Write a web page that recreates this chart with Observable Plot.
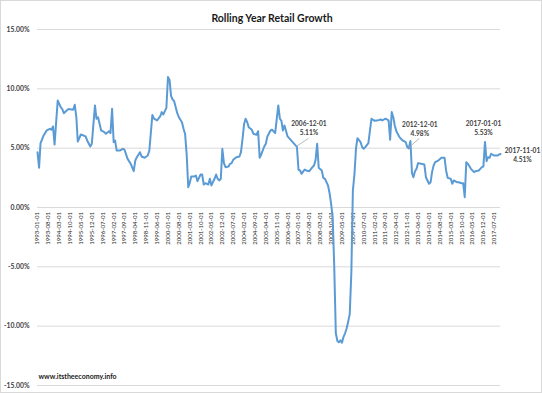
<!DOCTYPE html>
<html>
<head>
<meta charset="utf-8">
<script src="https://cdn.jsdelivr.net/npm/d3@7"></script>
<script src="https://cdn.jsdelivr.net/npm/@observablehq/plot@0.6"></script>
<style>
  html, body { margin: 0; padding: 0; background: #fff; }
  #chart svg { display: block; outline: 1px solid #d9d9d9; outline-offset: -1px; }
</style>
</head>
<body>
<div id="chart"></div>
<script>
const title = "Rolling Year Retail Growth";
const watermark = "www.itstheeconomy.info";

const months = [
  "1993-01","1993-02","1993-03","1993-05","1993-07","1993-09","1993-10","1993-11","1993-12",
  "1994-02","1994-04","1994-05","1994-06","1994-08","1994-09","1994-12",
  "1995-01","1995-02","1995-03","1995-05","1995-08","1995-09","1995-11","1995-12",
  "1996-02","1996-03","1996-04","1996-06","1996-08","1996-09","1996-11","1996-12",
  "1997-01","1997-02","1997-03","1997-04","1997-06","1997-08","1997-09","1997-11",
  "1998-01","1998-03","1998-04","1998-05","1998-07","1998-08","1998-10","1998-12",
  "1999-01","1999-03","1999-04","1999-06","1999-08","1999-09","1999-10","1999-11","1999-12",
  "2000-01","2000-02","2000-03","2000-04","2000-05","2000-07","2000-08","2000-10","2000-11","2000-12",
  "2001-01","2001-02","2001-03","2001-04","2001-06","2001-07","2001-08","2001-10","2001-11","2001-12",
  "2002-01","2002-03","2002-04","2002-05","2002-07","2002-08","2002-09","2002-10","2002-11","2002-12",
  "2003-01","2003-02","2003-04","2003-05","2003-06","2003-07","2003-09","2003-11","2003-12",
  "2004-01","2004-02","2004-03","2004-04","2004-05","2004-07","2004-08","2004-10","2004-11","2004-12",
  "2005-01","2005-03","2005-04","2005-05","2005-07","2005-08","2005-10","2005-12",
  "2006-01","2006-02","2006-03","2006-04","2006-06","2006-08","2006-10","2006-12",
  "2007-01","2007-02","2007-03","2007-05","2007-06","2007-08","2007-10","2007-11","2007-12",
  "2008-01","2008-02","2008-04","2008-05","2008-06","2008-08","2008-09","2008-10","2008-11","2008-12",
  "2009-01","2009-02","2009-03","2009-04","2009-05","2009-06","2009-07","2009-08","2009-09","2009-10","2009-11","2009-12",
  "2010-01","2010-02","2010-03","2010-05","2010-06","2010-07","2010-08","2010-10","2010-11","2010-12",
  "2011-02","2011-03","2011-04","2011-06","2011-07","2011-09","2011-11","2011-12",
  "2012-01","2012-02","2012-03","2012-04","2012-06","2012-08","2012-10","2012-11","2012-12",
  "2013-01","2013-02","2013-03","2013-04","2013-05","2013-06","2013-08","2013-10","2013-11",
  "2014-01","2014-02","2014-03","2014-04","2014-05","2014-07","2014-09","2014-11","2014-12",
  "2015-01","2015-03","2015-04","2015-05","2015-07","2015-08","2015-10","2015-11","2015-12",
  "2016-01","2016-02","2016-04","2016-06","2016-07","2016-09","2016-10","2016-11","2016-12",
  "2017-01","2017-02","2017-03","2017-04","2017-05","2017-07","2017-09","2017-10","2017-11"
];
const growth = [
  4.66,3.35,5.4,6.07,6.5,6.63,6.55,6.83,5.3,
  9.02,8.46,8.3,7.95,8.2,8.3,8.24,
  8.66,7.6,5.56,6.15,5.99,5.65,5.14,5.37,
  8.6,7.48,7.61,6.49,6.35,6.21,6.43,6.27,
  8.32,5.5,5.65,4.8,4.8,4.95,4.87,4.1,
  3.68,3.06,3.96,4.24,4.66,4.3,4.19,4.38,
  4.8,7.8,7.48,7.34,7.67,8.04,7.84,8.12,8.4,
  11.0,10.75,9.4,9.1,8.96,7.95,7.61,7.19,6.63,6.2,
  4.5,1.71,2.05,2.61,2.61,2.7,2.22,2.78,2.78,1.94,
  2.05,1.94,2.42,1.86,2.42,2.78,2.42,2.28,2.42,4.95,
  3.74,3.4,3.46,3.68,3.74,4.02,4.24,4.3,4.66,
  5.79,7.06,7.48,7.19,6.77,6.55,6.21,6.13,6.43,4.19,
  4.47,5.14,5.37,5.99,6.49,6.55,6.27,8.6,
  7.48,7.3,6.49,6.91,5.99,5.7,5.4,5.11,
  3.18,3.12,2.84,3.2,3.12,3.06,3.4,3.54,4.0,
  5.37,3.35,3.12,2.5,2.42,1.86,1.2,0.3,-0.9,-5.0,
  -10.6,-11.25,-11.36,-11.2,-11.4,-10.9,-10.6,-10.2,-9.6,-8.96,-5.5,1.43,
  2.8,5.0,5.84,5.5,5.1,4.95,5.09,5.42,6.49,7.48,
  7.3,7.34,7.34,7.42,7.34,7.48,7.34,5.71,
  8.04,7.61,6.91,6.43,5.93,5.65,5.5,5.09,4.98,
  5.6,2.9,2.55,3.06,3.26,3.74,3.68,3.63,2.55,
  2.0,2.13,2.98,3.54,3.82,3.96,4.19,4.19,3.12,
  2.5,2.42,2.0,2.28,2.13,2.13,2.05,2.05,0.87,
  3.82,3.68,3.26,2.98,3.06,3.12,3.26,3.4,3.45,
  5.53,3.9,4.24,4.19,4.53,4.38,4.38,4.45,4.51
];

const xTickLabels = [
  "1993-01-01","1993-08-01","1994-03-01","1994-10-01","1995-05-01","1995-12-01","1996-07-01",
  "1997-02-01","1997-09-01","1998-04-01","1998-11-01","1999-06-01","2000-01-01","2000-08-01",
  "2001-03-01","2001-10-01","2002-05-01","2002-12-01","2003-07-01","2004-02-01","2004-09-01",
  "2005-04-01","2005-11-01","2006-06-01","2007-01-01","2007-08-01","2008-03-01","2008-10-01",
  "2009-05-01","2009-12-01","2010-07-01","2011-02-01","2011-09-01","2012-04-01","2012-11-01",
  "2013-06-01","2014-01-01","2014-08-01","2015-03-01","2015-10-01","2016-05-01","2016-12-01",
  "2017-07-01"
];
const yTicks = [15, 10, 5, 0, -5, -10, -15];

const annDates = ["2006-12-01", "2012-12-01", "2017-01-01", "2017-11-01"];
const annValues = [5.11, 4.98, 5.53, 4.51];

const parseDate = d3.utcParse("%Y-%m-%d");
const data = months.map((m, i) => ({date: parseDate(m + "-01"), value: growth[i]}));
const ann = annDates.map((d, i) => ({date: parseDate(d), value: annValues[i], label: d + "\n" + annValues[i].toFixed(2) + "%"}));

const font = "Lato, 'Liberation Sans', sans-serif";

function annText(i, dx, dy) {
  return Plot.text([ann[i]], {
    x: "date", y: "value", text: "label", dx, dy,
    fontSize: 6.6, fontWeight: "bold", fill: "#404040", lineHeight: 1.35, lineAnchor: "middle"
  });
}
function leader(i, dx, dy) {
  return (index, scales) => {
    const x = scales.x(ann[i].date), y = scales.y(ann[i].value);
    return d3.create("svg:line")
      .attr("x1", x).attr("y1", y).attr("x2", x + dx).attr("y2", y + dy)
      .attr("stroke", "#a6a6a6").attr("stroke-width", 0.8).node();
  };
}

const chart = Plot.plot({
  width: 542,
  height: 393,
  marginLeft: 37,
  marginRight: 42,
  marginTop: 29,
  marginBottom: 8,
  style: {fontFamily: font, background: "#fff", overflow: "visible"},
  x: {type: "utc", domain: [parseDate("1993-01-01"), parseDate("2017-11-01")], axis: null},
  y: {domain: [-15, 15], axis: null},
  marks: [
    Plot.ruleY(yTicks, {stroke: "#d9d9d9", strokeWidth: 1}),
    Plot.axisY(yTicks, {
      tickSize: 0, tickPadding: 8, tickFormat: d => d.toFixed(2) + "%",
      fontSize: 6.8, fontWeight: "bold", fill: "#404040", label: null
    }),
    Plot.text(xTickLabels, {
      x: d => parseDate(d), y: 0, text: d => d, rotate: -90,
      textAnchor: "end", dy: 4.5, fontSize: 6.1, fill: "#262626"
    }),
    Plot.line(data, {x: "date", y: "value", stroke: "#5b9bd5", strokeWidth: 2, curve: "linear"}),
    leader(0, 12, -8),
    leader(1, 11, -9.5),
    annText(0, 12, -19),
    annText(1, 11, -20),
    annText(2, -1.5, -14),
    annText(3, 22, 1),
    Plot.text([title], {frameAnchor: "top", dx: 3, dy: -15, fontSize: 10.5, fontWeight: "bold", fill: "#1a1a1a"}),
    Plot.text([watermark], {frameAnchor: "bottom-left", dx: 1, dy: -7, textAnchor: "start", fontSize: 7, fontWeight: "bold", fill: "#1a1a1a"})
  ]
});
document.getElementById("chart").appendChild(chart);
</script>
</body>
</html>
